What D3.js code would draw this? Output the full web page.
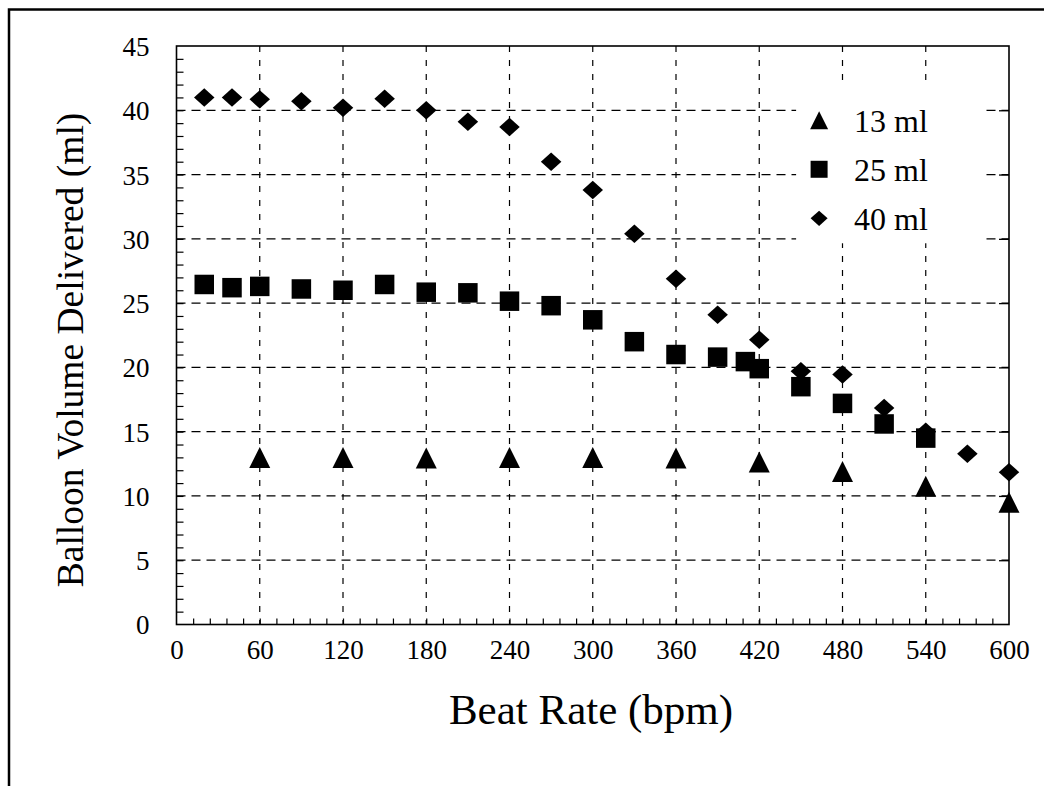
<!DOCTYPE html>
<html>
<head>
<meta charset="utf-8">
<script src="https://cdnjs.cloudflare.com/ajax/libs/d3/7.8.5/d3.min.js"></script>
<style>
  body { margin: 0; background: #fff; }
  svg { display: block; font-family: "Liberation Serif", "Times New Roman", serif; }
</style>
</head>
<body>
<svg id="chart" width="1044" height="786"></svg>
<script>
// 13 ml balloon
const bpm13 = [60, 120, 180, 240, 300, 360, 420, 480, 540, 600];
const vol13 = [13.0, 13.0, 12.95, 13.0, 13.0, 12.95, 12.65, 11.9, 10.75, 9.5];
// 25 ml balloon
const bpm25 = [20, 40, 60, 90, 120, 150, 180, 210, 240, 270, 300, 330, 360, 390, 410, 420, 450, 480, 510, 540];
const vol25 = [26.45, 26.2, 26.3, 26.1, 26.0, 26.45, 25.85, 25.8, 25.15, 24.8, 23.7, 22.0, 21.0, 20.8, 20.45, 19.9, 18.5, 17.2, 15.6, 14.5];
// 40 ml balloon
const bpm40 = [20, 40, 60, 90, 120, 150, 180, 210, 240, 270, 300, 330, 360, 390, 420, 450, 480, 510, 540, 570, 600];
const vol40 = [41.0, 41.0, 40.85, 40.7, 40.2, 40.9, 40.0, 39.1, 38.7, 36.0, 33.8, 30.4, 26.9, 24.1, 22.15, 19.7, 19.45, 16.85, 15.0, 13.28, 11.85];

const seriesNames = ["13 ml", "25 ml", "40 ml"];
const xTicks = d3.range(0, 601, 60);
const yTicks = d3.range(0, 46, 5);

const margin = { top: 46, right: 35, bottom: 161.5, left: 176.5 };
const width = 1044 - margin.left - margin.right;
const height = 786 - margin.top - margin.bottom;

const svg = d3.select("#chart");

// outer frame (scan is cropped on right and bottom)
svg.append("path")
  .attr("d", "M9,790 L9,9.5 L1050,9.5")
  .attr("fill", "none")
  .attr("stroke", "#000")
  .attr("stroke-width", 2.5);

const g = svg.append("g").attr("transform", `translate(${margin.left},${margin.top})`);

const x = d3.scaleLinear().domain([0, 600]).range([0, width]);
const y = d3.scaleLinear().domain([0, 45]).range([height, 0]);

// grid
g.append("g")
  .selectAll("line")
  .data(yTicks.filter((d) => d > 0 && d < 45))
  .enter()
  .append("line")
  .attr("x1", 0)
  .attr("x2", width)
  .attr("y1", (d) => y(d))
  .attr("y2", (d) => y(d))
  .attr("stroke", "#000")
  .attr("stroke-width", 1.3)
  .attr("stroke-dasharray", "9,6");

g.append("g")
  .selectAll("line")
  .data(xTicks.filter((d) => d > 0 && d < 600))
  .enter()
  .append("line")
  .attr("x1", (d) => x(d))
  .attr("x2", (d) => x(d))
  .attr("y1", 0)
  .attr("y2", height)
  .attr("stroke", "#000")
  .attr("stroke-width", 1.2)
  .attr("stroke-dasharray", "6,8");

// legend box hides grid
const legend = g.append("g").attr("transform", `translate(${x(448) - 2},${y(40) - 23})`);
legend.append("rect")
  .attr("width", 188)
  .attr("height", 156)
  .attr("fill", "#fff");

// markers
const tri = (s) => `M0,${-s / 2}L${s / 2},${s / 2}L${-s / 2},${s / 2}Z`;
const sq = (s) => `M${-s / 2},${-s / 2}h${s}v${s}h${-s}Z`;
const dia = (s) => `M0,${-s * 0.45}L${s / 2},0L0,${s * 0.45}L${-s / 2},0Z`;
const shapes = [tri, sq, dia];
const sizes = [21, 19.5, 20.5];

const series = [
  bpm13.map((b, i) => ({ b, v: vol13[i] })),
  bpm25.map((b, i) => ({ b, v: vol25[i] })),
  bpm40.map((b, i) => ({ b, v: vol40[i] })),
];

series.forEach((pts, k) => {
  g.append("g")
    .selectAll("path")
    .data(pts)
    .enter()
    .append("path")
    .attr("d", shapes[k](sizes[k]))
    .attr("transform", (d) => `translate(${x(d.b)},${y(d.v)})`)
    .attr("fill", "#000");
});

// legend entries
seriesNames.forEach((name, k) => {
  const row = legend.append("g").attr("transform", `translate(23,${33 + k * 49})`);
  row.append("path").attr("d", shapes[k](k === 0 ? 18 : 17)).attr("fill", "#000");
  row.append("text")
    .attr("x", 35)
    .attr("y", 12)
    .attr("font-size", 32)
    .text(name);
});

// axes
g.append("g")
  .call(d3.axisLeft(y).tickValues(d3.range(1, 45)).tickSize(-7).tickFormat(""))
  .call((a) => a.select(".domain").remove())
  .selectAll("line").attr("stroke-width", 1.2);

g.append("g")
  .attr("transform", `translate(0,${height})`)
  .call(d3.axisBottom(x).tickValues(d3.range(12, 600, 12)).tickSize(-6).tickFormat(""))
  .call((a) => a.select(".domain").remove())
  .selectAll("line").attr("stroke-width", 1.2);

g.append("g")
  .attr("transform", `translate(${width},0)`)
  .call(d3.axisRight(y).tickValues(yTicks.filter((d) => d > 0 && d < 45)).tickSize(-10).tickFormat(""))
  .call((a) => a.select(".domain").remove())
  .selectAll("line").attr("stroke-width", 1.3);

const yAxis = g.append("g")
  .call(d3.axisLeft(y).tickValues(yTicks).tickSize(0).tickPadding(27));
yAxis.select(".domain").remove();
yAxis.selectAll("text")
  .attr("font-family", "Liberation Serif")
  .attr("font-size", 27)
  .attr("fill", "#000")
  .attr("dy", "0.35em");

const xAxis = g.append("g")
  .attr("transform", `translate(0,${height})`)
  .call(d3.axisBottom(x).tickValues(xTicks).tickSize(0));
xAxis.select(".domain").remove();
xAxis.selectAll("text")
  .attr("font-family", "Liberation Serif")
  .attr("font-size", 27)
  .attr("fill", "#000")
  .attr("dy", null)
  .attr("y", 34);

// plot frame
g.append("rect")
  .attr("width", width)
  .attr("height", height)
  .attr("fill", "none")
  .attr("stroke", "#000")
  .attr("stroke-width", 1.6);

// titles
svg.append("text")
  .attr("x", 591)
  .attr("y", 724)
  .attr("text-anchor", "middle")
  .attr("font-size", 43)
  .text("Beat Rate (bpm)");

svg.append("text")
  .attr("transform", "translate(83,350) rotate(-90)")
  .attr("text-anchor", "middle")
  .attr("font-size", 37.5)
  .text("Balloon Volume Delivered (ml)");
</script>
</body>
</html>
